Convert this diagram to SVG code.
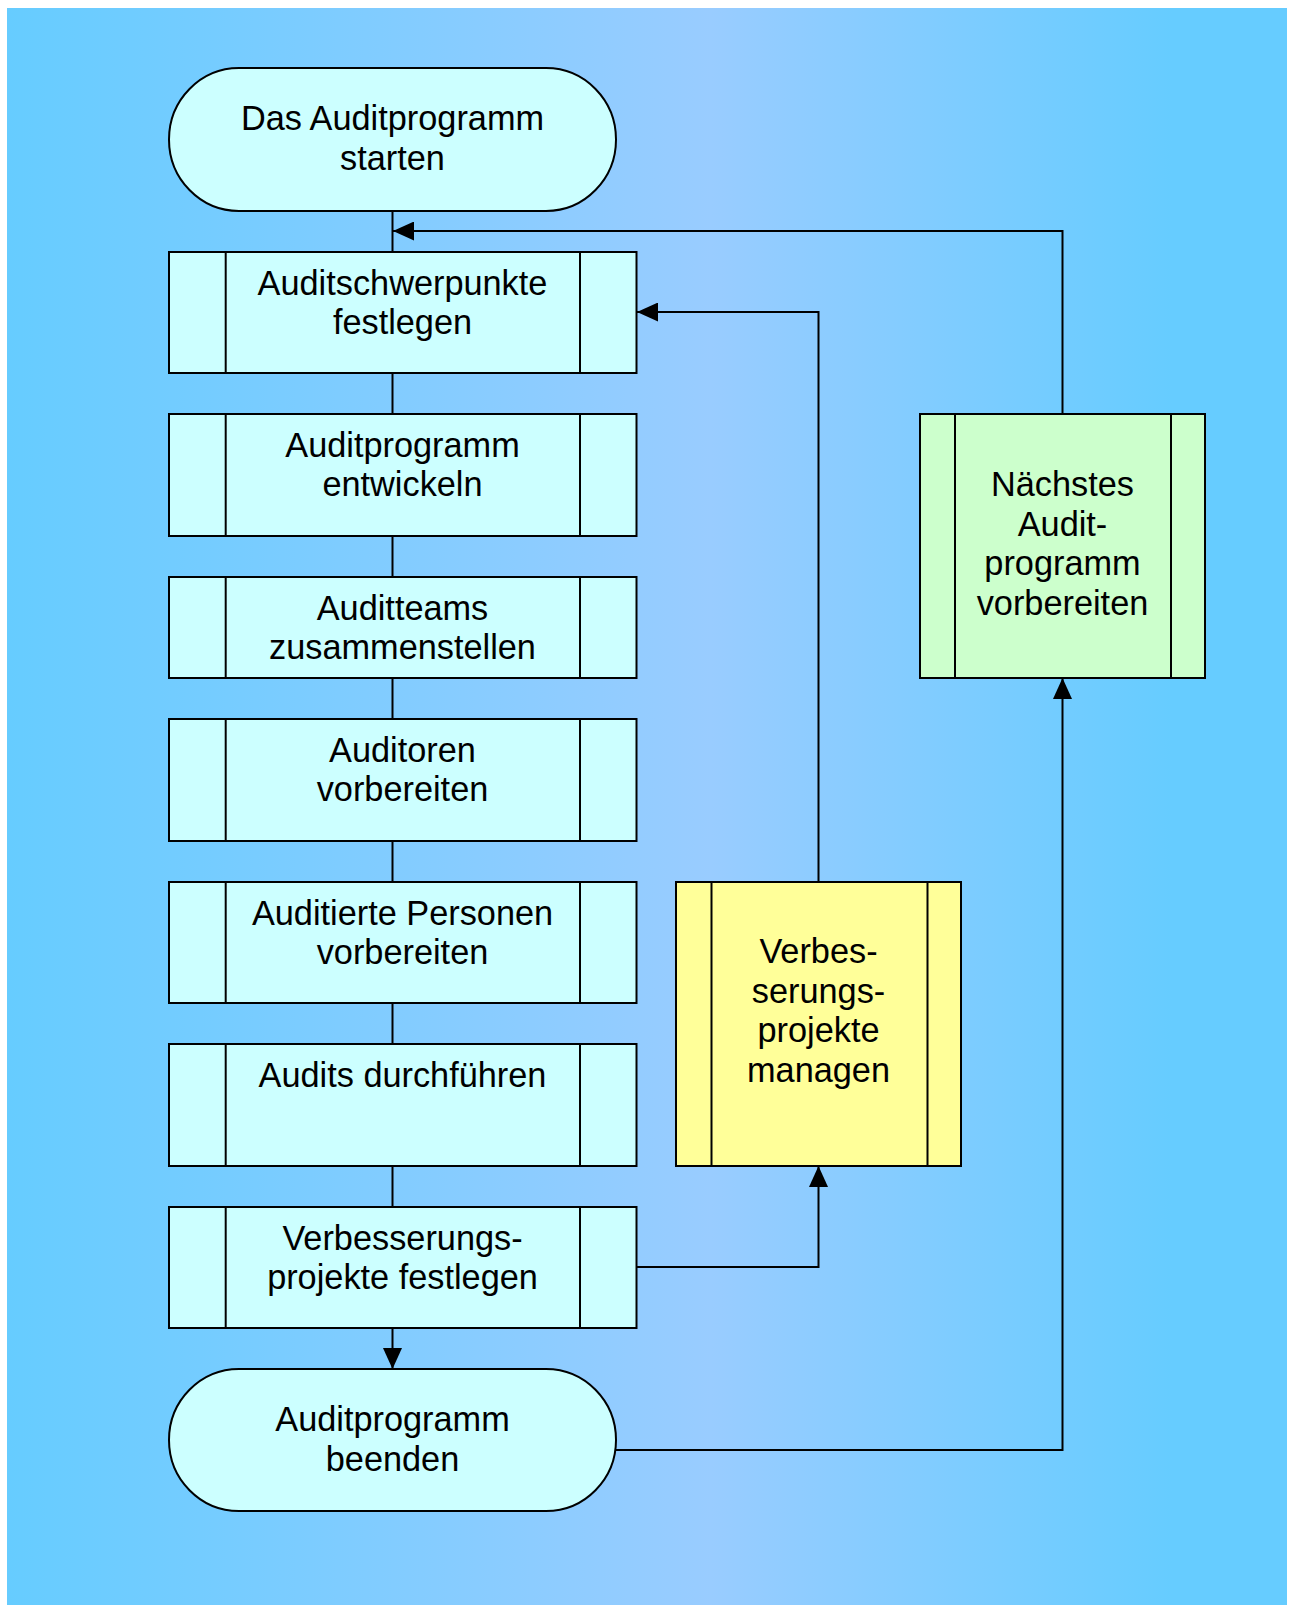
<svg xmlns="http://www.w3.org/2000/svg" width="1292" height="1605" viewBox="0 0 1292 1605">
<defs>
<linearGradient id="bg" gradientUnits="userSpaceOnUse" x1="7" y1="0" x2="1287" y2="0">
<stop offset="0" stop-color="#66CCFF"/>
<stop offset="0.55" stop-color="#99CCFF"/>
<stop offset="0.91" stop-color="#66CCFF"/>
<stop offset="1" stop-color="#66CCFF"/>
</linearGradient>
<marker id="arr" markerUnits="userSpaceOnUse" markerWidth="21" markerHeight="19" refX="21" refY="9.5" orient="auto">
<path d="M0,0 L21,9.5 L0,19 z" fill="#000"/>
</marker>
</defs>
<style>
.box{fill:#CCFFFF;stroke:#000;stroke-width:2}
.yel{fill:#FFFF99;stroke:#000;stroke-width:2}
.grn{fill:#CCFFCC;stroke:#000;stroke-width:2}
.ln{stroke:#000;stroke-width:2;fill:none}
.t{font-family:"Liberation Sans",Arial,sans-serif;font-size:34.3px;fill:#000;text-anchor:middle}
</style>
<rect x="7" y="8" width="1280" height="1597" fill="url(#bg)"/>
<g id="connectors">
<line class="ln" x1="392.5" y1="211" x2="392.5" y2="252"/>
<line class="ln" x1="392.5" y1="373" x2="392.5" y2="414"/>
<line class="ln" x1="392.5" y1="536" x2="392.5" y2="577"/>
<line class="ln" x1="392.5" y1="678" x2="392.5" y2="719"/>
<line class="ln" x1="392.5" y1="841" x2="392.5" y2="882"/>
<line class="ln" x1="392.5" y1="1003" x2="392.5" y2="1044"/>
<line class="ln" x1="392.5" y1="1166" x2="392.5" y2="1207"/>
<line class="ln" x1="392.5" y1="1328" x2="392.5" y2="1369" marker-end="url(#arr)"/>
<path class="ln" d="M1062.5,414 V231 H393" marker-end="url(#arr)"/>
<path class="ln" d="M818.5,882 V312 H637" marker-end="url(#arr)"/>
<path class="ln" d="M636.5,1267 H818.5 V1166" marker-end="url(#arr)"/>
<path class="ln" d="M616,1450 H1062.5 V678" marker-end="url(#arr)"/>
</g>
<g id="start">
<rect class="box" x="169" y="68" width="447" height="143" rx="70" ry="71.5"/>
<text class="t" x="392.5" y="130">Das Auditprogramm</text>
<text class="t" x="392.5" y="170">starten</text>
</g>
<g id="n1">
<rect class="box" x="169" y="252" width="467.5" height="121"/>
<line class="ln" x1="225.7" y1="252" x2="225.7" y2="373"/>
<line class="ln" x1="580" y1="252" x2="580" y2="373"/>
<text class="t" x="402.5" y="295">Auditschwerpunkte</text>
<text class="t" x="402.5" y="334">festlegen</text>
</g>
<g id="n2">
<rect class="box" x="169" y="414" width="467.5" height="122"/>
<line class="ln" x1="225.7" y1="414" x2="225.7" y2="536"/>
<line class="ln" x1="580" y1="414" x2="580" y2="536"/>
<text class="t" x="402.5" y="457">Auditprogramm</text>
<text class="t" x="402.5" y="496">entwickeln</text>
</g>
<g id="n3">
<rect class="box" x="169" y="577" width="467.5" height="101"/>
<line class="ln" x1="225.7" y1="577" x2="225.7" y2="678"/>
<line class="ln" x1="580" y1="577" x2="580" y2="678"/>
<text class="t" x="402.5" y="620">Auditteams</text>
<text class="t" x="402.5" y="659">zusammenstellen</text>
</g>
<g id="n4">
<rect class="box" x="169" y="719" width="467.5" height="122"/>
<line class="ln" x1="225.7" y1="719" x2="225.7" y2="841"/>
<line class="ln" x1="580" y1="719" x2="580" y2="841"/>
<text class="t" x="402.5" y="762">Auditoren</text>
<text class="t" x="402.5" y="801">vorbereiten</text>
</g>
<g id="n5">
<rect class="box" x="169" y="882" width="467.5" height="121"/>
<line class="ln" x1="225.7" y1="882" x2="225.7" y2="1003"/>
<line class="ln" x1="580" y1="882" x2="580" y2="1003"/>
<text class="t" x="402.5" y="925">Auditierte Personen</text>
<text class="t" x="402.5" y="964">vorbereiten</text>
</g>
<g id="n6">
<rect class="box" x="169" y="1044" width="467.5" height="122"/>
<line class="ln" x1="225.7" y1="1044" x2="225.7" y2="1166"/>
<line class="ln" x1="580" y1="1044" x2="580" y2="1166"/>
<text class="t" x="402.5" y="1087">Audits durchführen</text>
</g>
<g id="n7">
<rect class="box" x="169" y="1207" width="467.5" height="121"/>
<line class="ln" x1="225.7" y1="1207" x2="225.7" y2="1328"/>
<line class="ln" x1="580" y1="1207" x2="580" y2="1328"/>
<text class="t" x="402.5" y="1250">Verbesserungs-</text>
<text class="t" x="402.5" y="1289">projekte festlegen</text>
</g>
<g id="end">
<rect class="box" x="169" y="1369" width="447" height="142" rx="70" ry="71"/>
<text class="t" x="392.5" y="1431">Auditprogramm</text>
<text class="t" x="392.5" y="1471">beenden</text>
</g>
<g id="yellow">
<rect class="yel" x="676" y="882" width="285" height="284"/>
<line class="ln" x1="711.5" y1="882" x2="711.5" y2="1166"/>
<line class="ln" x1="927.5" y1="882" x2="927.5" y2="1166"/>
<text class="t" x="818.5" y="963">Verbes-</text>
<text class="t" x="818.5" y="1003">serungs-</text>
<text class="t" x="818.5" y="1042">projekte</text>
<text class="t" x="818.5" y="1082">managen</text>
</g>
<g id="green">
<rect class="grn" x="920" y="414" width="285" height="264"/>
<line class="ln" x1="955" y1="414" x2="955" y2="678"/>
<line class="ln" x1="1171" y1="414" x2="1171" y2="678"/>
<text class="t" x="1062.5" y="496">Nächstes</text>
<text class="t" x="1062.5" y="535.5">Audit-</text>
<text class="t" x="1062.5" y="575">programm</text>
<text class="t" x="1062.5" y="614.5">vorbereiten</text>
</g>
</svg>
